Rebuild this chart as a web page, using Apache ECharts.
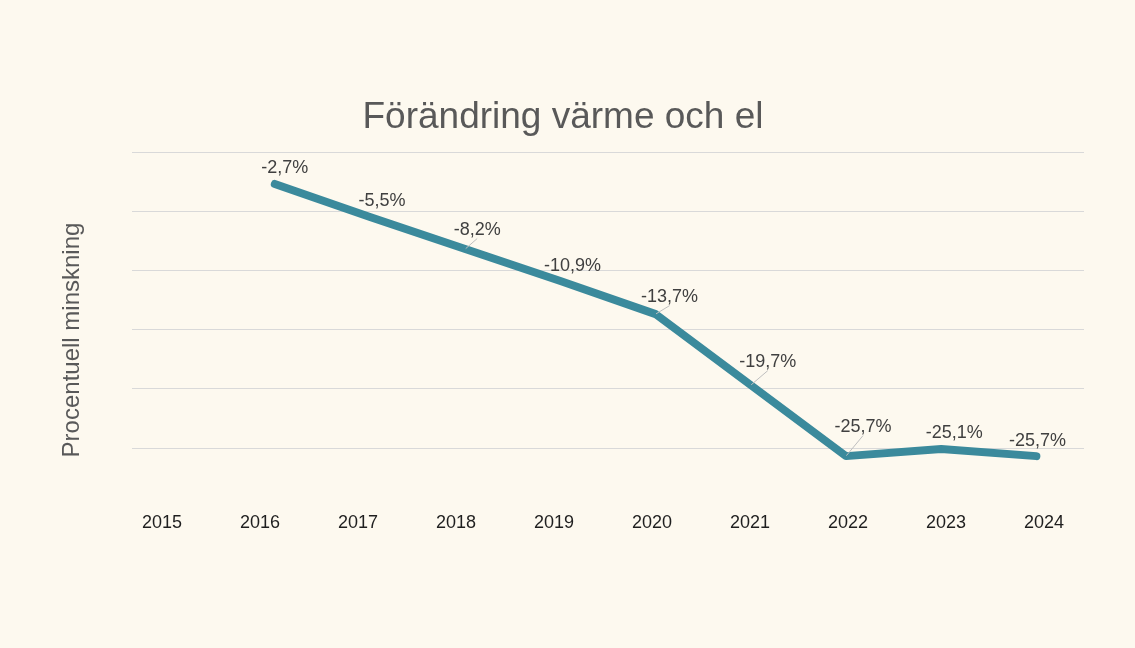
<!DOCTYPE html>
<html>
<head>
<meta charset="utf-8">
<script src="https://cdn.jsdelivr.net/npm/echarts@6/dist/echarts.min.js"></script>
<style>
html,body{margin:0;padding:0;background:#fdf9ef;}
#c{width:1135px;height:648px;}
</style>
</head>
<body>
<div id="c"></div>
<script>
const years = ['2015','2016','2017','2018','2019','2020','2021','2022','2023','2024'];
const values = [null, -2.7, -5.5, -8.2, -10.9, -13.7, -19.7, -25.7, -25.1, -25.7];
const yMin = -30, yMax = 0, yStep = 5;

// label layout tweaks (pixels), by data index
const labelShift = {1:[10,-1],2:[12,-2],3:[12,-5],4:[12,0],5:[14,-3],6:[17,-9],7:[17,-15],8:[13,-1],9:[1,-1]};
const guideIdx = [3,5,6,7];

const FONT = 'Liberation Sans, Arial, sans-serif';
const chart = echarts.init(document.getElementById('c'));
const gridColors = [];
for (let v = yMin; v <= yMax; v += yStep) gridColors.push(v === yMin ? 'rgba(0,0,0,0)' : '#d9d9d9');

chart.setOption({
  backgroundColor: '#fdf9ef',
  title: {
    text: 'Förändring värme och el',
    left: 558, textAlign: 'center', top: 94,
    textStyle: {fontFamily: FONT, fontSize: 37, fontWeight: 'normal', color: '#595959'}
  },
  graphic: [{
    type: 'text', x: 72, y: 340, rotation: Math.PI / 2,
    style: {text: 'Procentuell minskning', fontFamily: FONT, fontSize: 24, fill: '#595959',
            align: 'center', verticalAlign: 'middle'}
  }],
  grid: [
    {left: 132, right: 51, top: 152, bottom: 141},
    {left: 113, right: 42, top: 152, bottom: 141}
  ],
  xAxis: [
    {type: 'category', data: years, gridIndex: 0, axisLine: {show: false}, axisTick: {show: false}, axisLabel: {show: false}},
    {type: 'category', data: years, gridIndex: 1, axisLine: {show: false}, axisTick: {show: false},
     axisLabel: {margin: 7, fontFamily: FONT, fontSize: 18, color: '#1f1f1f'}}
  ],
  yAxis: [
    {type: 'value', gridIndex: 0, min: yMin, max: yMax, interval: yStep,
     axisLabel: {show: false}, axisLine: {show: false}, axisTick: {show: false},
     splitLine: {show: true, lineStyle: {color: gridColors, width: 1}}},
    {type: 'value', gridIndex: 1, min: yMin, max: yMax, show: false, splitLine: {show: false}}
  ],
  series: [{
    type: 'line',
    xAxisIndex: 0, yAxisIndex: 0,
    data: values.map((v, i) => ({value: v, labelLine: {show: guideIdx.includes(i)}})),
    symbol: 'circle', symbolSize: 1, showSymbol: true,
    lineStyle: {color: '#3b8a9c', width: 8, cap: 'round', join: 'round'},
    itemStyle: {color: '#3b8a9c'},
    label: {
      show: true, position: 'top', distance: 5,
      fontFamily: FONT, fontSize: 18, color: '#404040',
      formatter: p => (p.value == null ? '' : String(p.value).replace('.', ',') + '%')
    },
    labelLine: {lineStyle: {color: '#bfbfbf', width: 1}},
    labelLayout: p => {
      const s = labelShift[p.dataIndex] || [0, 0];
      return {dx: s[0], dy: s[1]};
    },
    animation: false
  }]
});
</script>
</body>
</html>
